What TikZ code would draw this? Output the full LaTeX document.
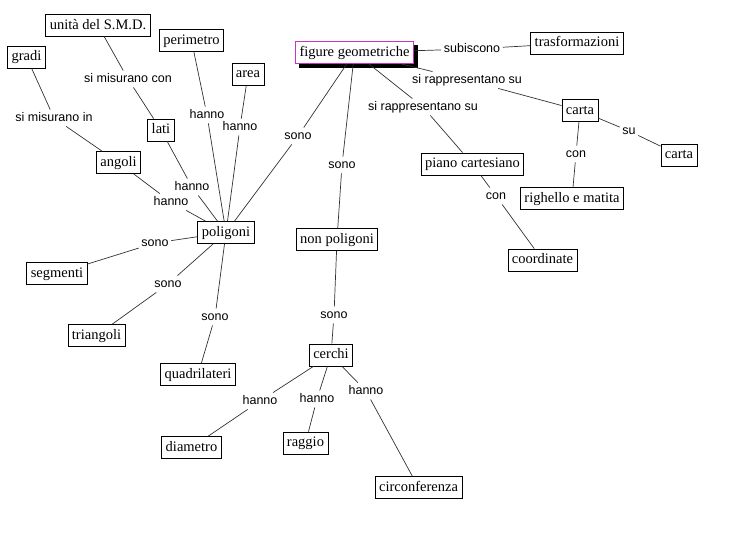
\documentclass[tikz,border=0pt]{standalone}
\usepackage{fontspec}
\setmainfont{Liberation Serif}
\newfontfamily\linkfont{Liberation Sans}
\definecolor{cmapmagenta}{RGB}{200,50,200}
\definecolor{cmapline}{RGB}{50,50,50}

\begin{document}
\begin{tikzpicture}[x=1pt,y=-1pt,
  concept/.style={draw, line width=0.8pt, fill=white, font=\fontsize{14.5}{16}\selectfont, inner xsep=4pt, inner ysep=4.5pt, text height=10pt, text depth=3pt},
  linking/.style={font=\linkfont\fontsize{12.5}{14}\selectfont, inner sep=2.5pt, text height=9pt, text depth=2.5pt},
  link/.style={draw, line width=0.7pt, cmapline}]
\useasboundingbox (0,0) rectangle (738,539);
% concetti
\node[concept, draw=cmapmagenta, line width=1pt] (figure) at (354.5,52.5) {figure geometriche};
\fill[black] ([xshift=4pt]figure.south west) rectangle ([xshift=4pt,yshift=-4pt]figure.south east);
\fill[black] ([yshift=-4pt]figure.north east) rectangle ([xshift=4pt,yshift=-4pt]figure.south east);
\node[concept] (trasf) at (577,43) {trasformazioni};
\node[concept] (carta) at (580,110.5) {carta};
\node[concept] (carta2) at (679,155) {carta};
\node[concept] (righello) at (572,198.5) {righello e matita};
\node[concept] (piano) at (472.5,164) {piano cartesiano};
\node[concept] (coord) at (542.5,260) {coordinate};
\node[concept] (poligoni) at (226,232.5) {poligoni};
\node[concept] (nonpol) at (337,239.5) {non poligoni};
\node[concept] (unita) at (98,25.5) {unità del S.M.D.};
\node[concept] (gradi) at (26.5,57) {gradi};
\node[concept] (perimetro) at (191.5,40.5) {perimetro};
\node[concept] (area) at (248,74) {area};
\node[concept] (lati) at (161,130) {lati};
\node[concept] (angoli) at (118.5,162.5) {angoli};
\node[concept] (segmenti) at (57,273.5) {segmenti};
\node[concept] (triangoli) at (96.5,335.5) {triangoli};
\node[concept] (quadri) at (198,374.5) {quadrilateri};
\node[concept] (cerchi) at (331,355) {cerchi};
\node[concept] (diametro) at (191.5,447.5) {diametro};
\node[concept] (raggio) at (305.5,443) {raggio};
\node[concept] (circonf) at (418.5,487.5) {circonferenza};
% frasi legame
\node[linking] (subiscono) at (472,49) {subiscono};
\node[linking] (rapp1) at (467,80) {si rappresentano su};
\node[linking] (rapp2) at (423,107) {si rappresentano su};
\node[linking] (su) at (629,131) {su};
\node[linking] (con1) at (576,154) {con};
\node[linking] (con2) at (496,196) {con};
\node[linking] (sono1) at (298,136) {sono};
\node[linking] (sono2) at (342,165) {sono};
\node[linking] (hanno1) at (207,115) {hanno};
\node[linking] (hanno2) at (240,127) {hanno};
\node[linking] (hanno3) at (192,187) {hanno};
\node[linking] (hanno4) at (171,202) {hanno};
\node[linking] (misucon) at (128,79) {si misurano con};
\node[linking] (misuin) at (54,118) {si misurano in};
\node[linking] (sono3) at (155,243) {sono};
\node[linking] (sono4) at (168,284) {sono};
\node[linking] (sono5) at (215,317) {sono};
\node[linking] (sono6) at (334,315) {sono};
\node[linking] (hanno5) at (260,401) {hanno};
\node[linking] (hanno6) at (317,399) {hanno};
\node[linking] (hanno7) at (366,391) {hanno};
% collegamenti
\path[link] (figure) -- (subiscono) (subiscono) -- (trasf);
\path[link] (figure) -- (rapp1) (rapp1) -- (carta);
\path[link] (figure) -- (rapp2) (rapp2) -- (piano);
\path[link] (figure) -- (sono1) (sono1) -- (poligoni);
\path[link] (figure) -- (sono2) (sono2) -- (nonpol);
\path[link] (carta) -- (su) (su) -- (carta2);
\path[link] (carta) -- (con1) (con1) -- (righello);
\path[link] (piano) -- (con2) (con2) -- (coord);
\path[link] (poligoni) -- (hanno1) (hanno1) -- (perimetro);
\path[link] (poligoni) -- (hanno2) (hanno2) -- (area);
\path[link] (poligoni) -- (hanno3) (hanno3) -- (lati);
\path[link] (poligoni) -- (hanno4) (hanno4) -- (angoli);
\path[link] (lati) -- (misucon) (misucon) -- (unita);
\path[link] (angoli) -- (misuin) (misuin) -- (gradi);
\path[link] (poligoni) -- (sono3) (sono3) -- (segmenti);
\path[link] (poligoni) -- (sono4) (sono4) -- (triangoli);
\path[link] (poligoni) -- (sono5) (sono5) -- (quadri);
\path[link] (nonpol) -- (sono6) (sono6) -- (cerchi);
\path[link] (cerchi) -- (hanno5) (hanno5) -- (diametro);
\path[link] (cerchi) -- (hanno6) (hanno6) -- (raggio);
\path[link] (cerchi) -- (hanno7) (hanno7) -- (circonf);
\end{tikzpicture}
\end{document}
